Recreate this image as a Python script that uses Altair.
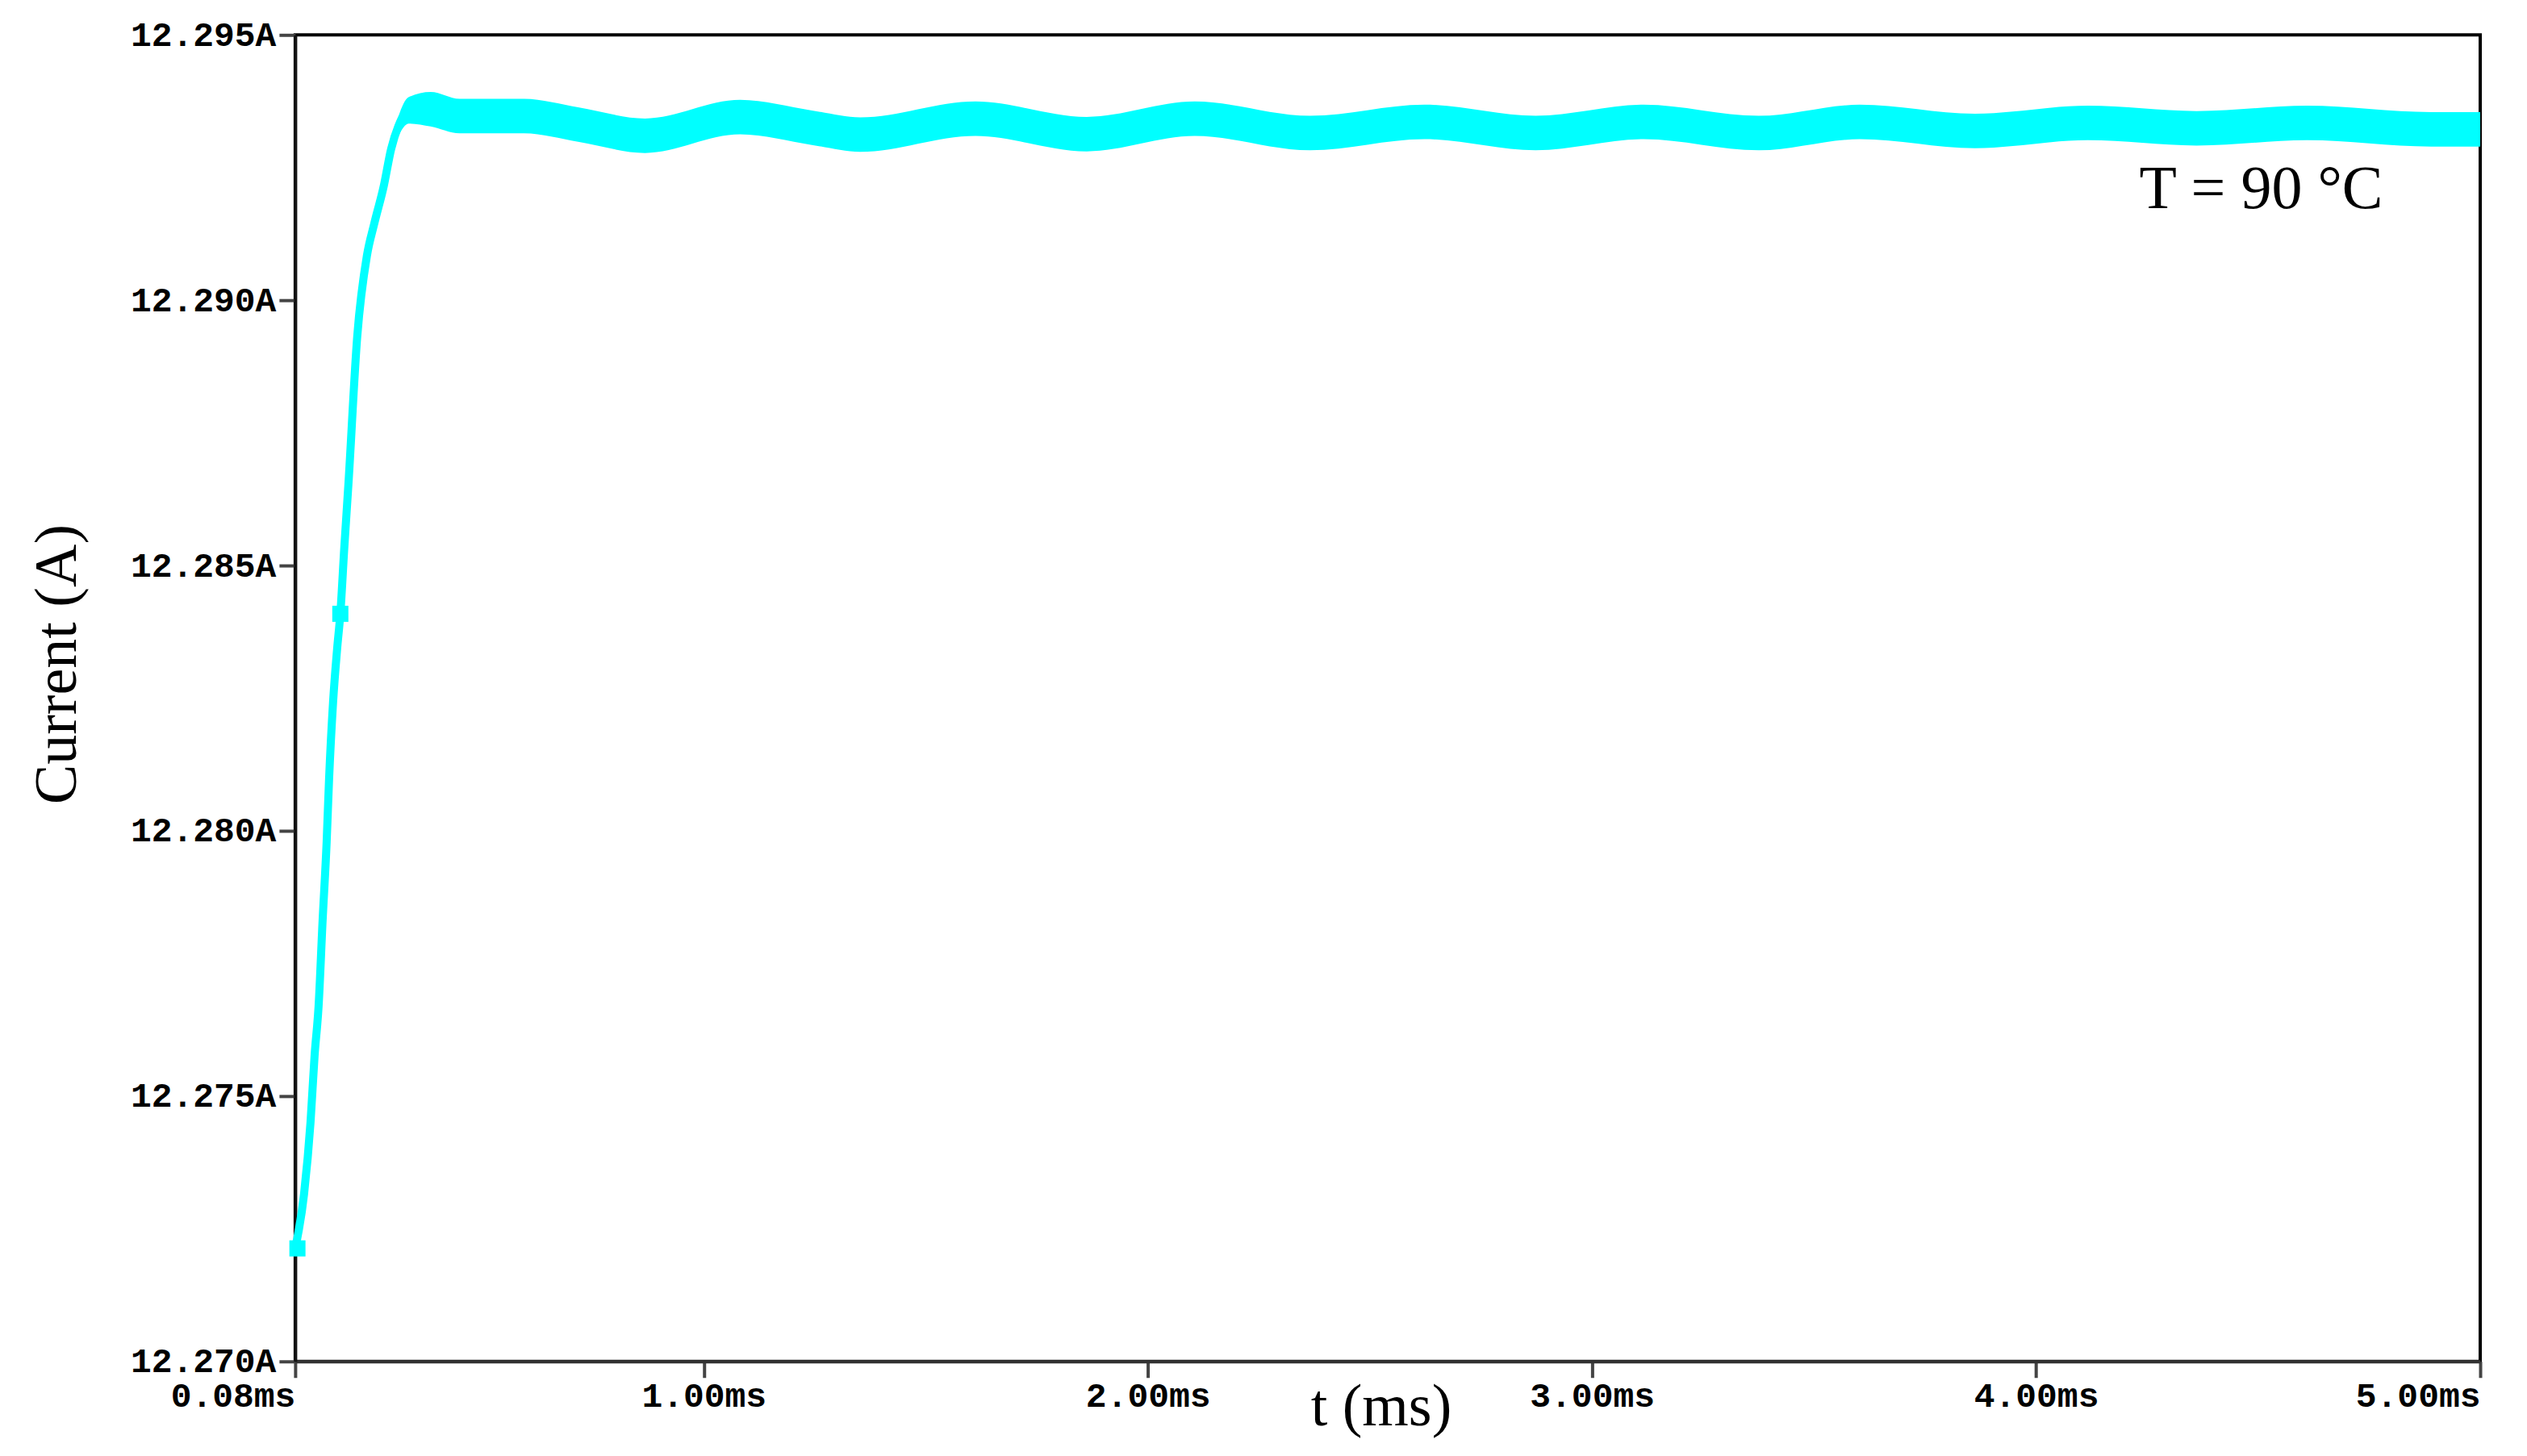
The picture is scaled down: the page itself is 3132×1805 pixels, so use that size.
import altair as alt
import pandas as pd

# time (ms)
times = [0.080, 0.100, 0.1145, 0.1236, 0.1326, 0.1417, 0.1508, 0.1562, 0.1653, 0.1744,
         0.1816, 0.1907, 0.1998, 0.2197, 0.2415, 0.2579, 0.2796, 0.2960, 0.3123, 0.3359,
         0.3849, 0.4502, 0.5954, 0.7170, 0.8677, 1.0818, 1.2433, 1.3522, 1.6118, 1.8622,
         2.1054, 2.3650, 2.6226, 2.8731, 3.1163, 3.3758, 3.6027, 3.8622, 4.1163, 4.3613,
         4.6099, 4.8895, 5.000]
# current centre value (A)
current = [12.27213, 12.27316, 12.27451, 12.27576, 12.27669, 12.27831, 12.27979, 12.28096, 12.28243, 12.28343,
           12.28409, 12.28536, 12.28653, 12.28932, 12.29084, 12.29144, 12.29216, 12.29285, 12.29328, 12.29358,
           12.29360, 12.29347, 12.29347, 12.29331, 12.29310, 12.29345, 12.29325, 12.29312, 12.29342, 12.29313,
           12.29342, 12.29315, 12.29336, 12.29315, 12.29336, 12.29315, 12.29336, 12.29319, 12.29334, 12.29324,
           12.29334, 12.29322, 12.29322]
# high-frequency ripple, peak-to-peak (A)
ripple = [0, 0, 0, 0, 0, 0, 0, 0, 0, 0,
          0, 0, 0, 0, 0, 0, 0, 0.00012, 0.00035, 0.0005,
          0.00065, 0.00065, 0.00065, 0.00065, 0.00065, 0.00065, 0.00065, 0.00065, 0.00065, 0.00065,
          0.00065, 0.00065, 0.00065, 0.00065, 0.00065, 0.00065, 0.00065, 0.00065, 0.00065, 0.00065,
          0.00065, 0.00065, 0.00065]

marker_t = [0.085, 0.1816]
marker_i = [12.27213, 12.28409]

x_ticks = [0.08, 1.0, 2.0, 3.0, 4.0, 5.0]
y_ticks = [12.270, 12.275, 12.280, 12.285, 12.290, 12.295]

note_text = ["T = 90 °C"]
note_t = [4.2325]
note_i = [12.29173]

df = pd.DataFrame({"t": times, "i": current, "r": ripple})
mk = pd.DataFrame({"t": marker_t, "i": marker_i})
nt = pd.DataFrame({"t": note_t, "i": note_i, "label": note_text})

CYAN = "#00FFFF"

xscale = alt.Scale(domain=[0.08, 5.0], nice=False, zero=False)
yscale = alt.Scale(domain=[12.270, 12.295], nice=False, zero=False)

xaxis = alt.Axis(
    values=x_ticks,
    labelExpr="format(datum.value, '.2f') + 'ms'",
    labelFont="Liberation Mono", labelFontSize=43, labelFontWeight="bold", labelColor="black",
    labelAlign={"condition": {"test": "datum.value < 0.5 || datum.value > 4.5", "value": "right"}, "value": "center"},
    labelFlush=False, labelOverlap=False, labelPadding=2, labelLimit=0,
    tickSize=20, tickWidth=4, tickColor="#444444",
    domainColor="#333333", domainWidth=4, grid=False,
    title="t (ms)", titleFont="Liberation Serif", titleFontSize=74, titleFontWeight="normal",
    titleColor="black", titleX=1346, titleY=79, titleBaseline="alphabetic", titleAlign="center",
)
yaxis = alt.Axis(
    values=y_ticks,
    labelExpr="format(datum.value, '.3f') + 'A'",
    labelFont="Liberation Mono", labelFontSize=43, labelFontWeight="bold", labelColor="black",
    labelPadding=4, labelOverlap=False, labelFlush=False, labelLimit=0,
    tickSize=20, tickWidth=4, tickColor="#444444",
    domainColor="#111111", domainWidth=4, grid=False,
    title="Current (A)", titleFont="Liberation Serif", titleFontSize=74, titleFontWeight="normal",
    titleColor="black", titleAngle=270, titleX=-294, titleY=780, titleBaseline="middle", titleAlign="center",
    titleLimit=0,
)

base = alt.Chart(df)

band = base.transform_calculate(
    lo="datum.i - datum.r / 2", hi="datum.i + datum.r / 2"
).mark_area(color=CYAN, interpolate="monotone", opacity=1).encode(
    x=alt.X("t:Q", scale=xscale, axis=xaxis),
    y=alt.Y("lo:Q", scale=yscale, axis=yaxis),
    y2="hi:Q",
)

line = base.mark_line(color=CYAN, strokeWidth=10, interpolate="monotone").encode(
    x=alt.X("t:Q", scale=xscale),
    y=alt.Y("i:Q", scale=yscale),
)

markers = alt.Chart(mk).mark_square(color=CYAN, size=400, opacity=1).encode(
    x=alt.X("t:Q", scale=xscale),
    y=alt.Y("i:Q", scale=yscale),
)

note = alt.Chart(nt).mark_text(
    font="Liberation Serif", fontSize=76, color="black", align="left", baseline="alphabetic"
).encode(
    x=alt.X("t:Q", scale=xscale),
    y=alt.Y("i:Q", scale=yscale),
    text="label:N",
)

chart = alt.layer(band, line, markers, note).properties(
    width=2709, height=1645,
    autosize=alt.AutoSizeParams(type="none"),
    padding={"left": 358, "top": 35, "right": 50, "bottom": 110},
    background="white",
).configure_view(stroke="black", strokeWidth=4)

chart.save("out.html", embed_options={"renderer": "svg", "actions": False})
